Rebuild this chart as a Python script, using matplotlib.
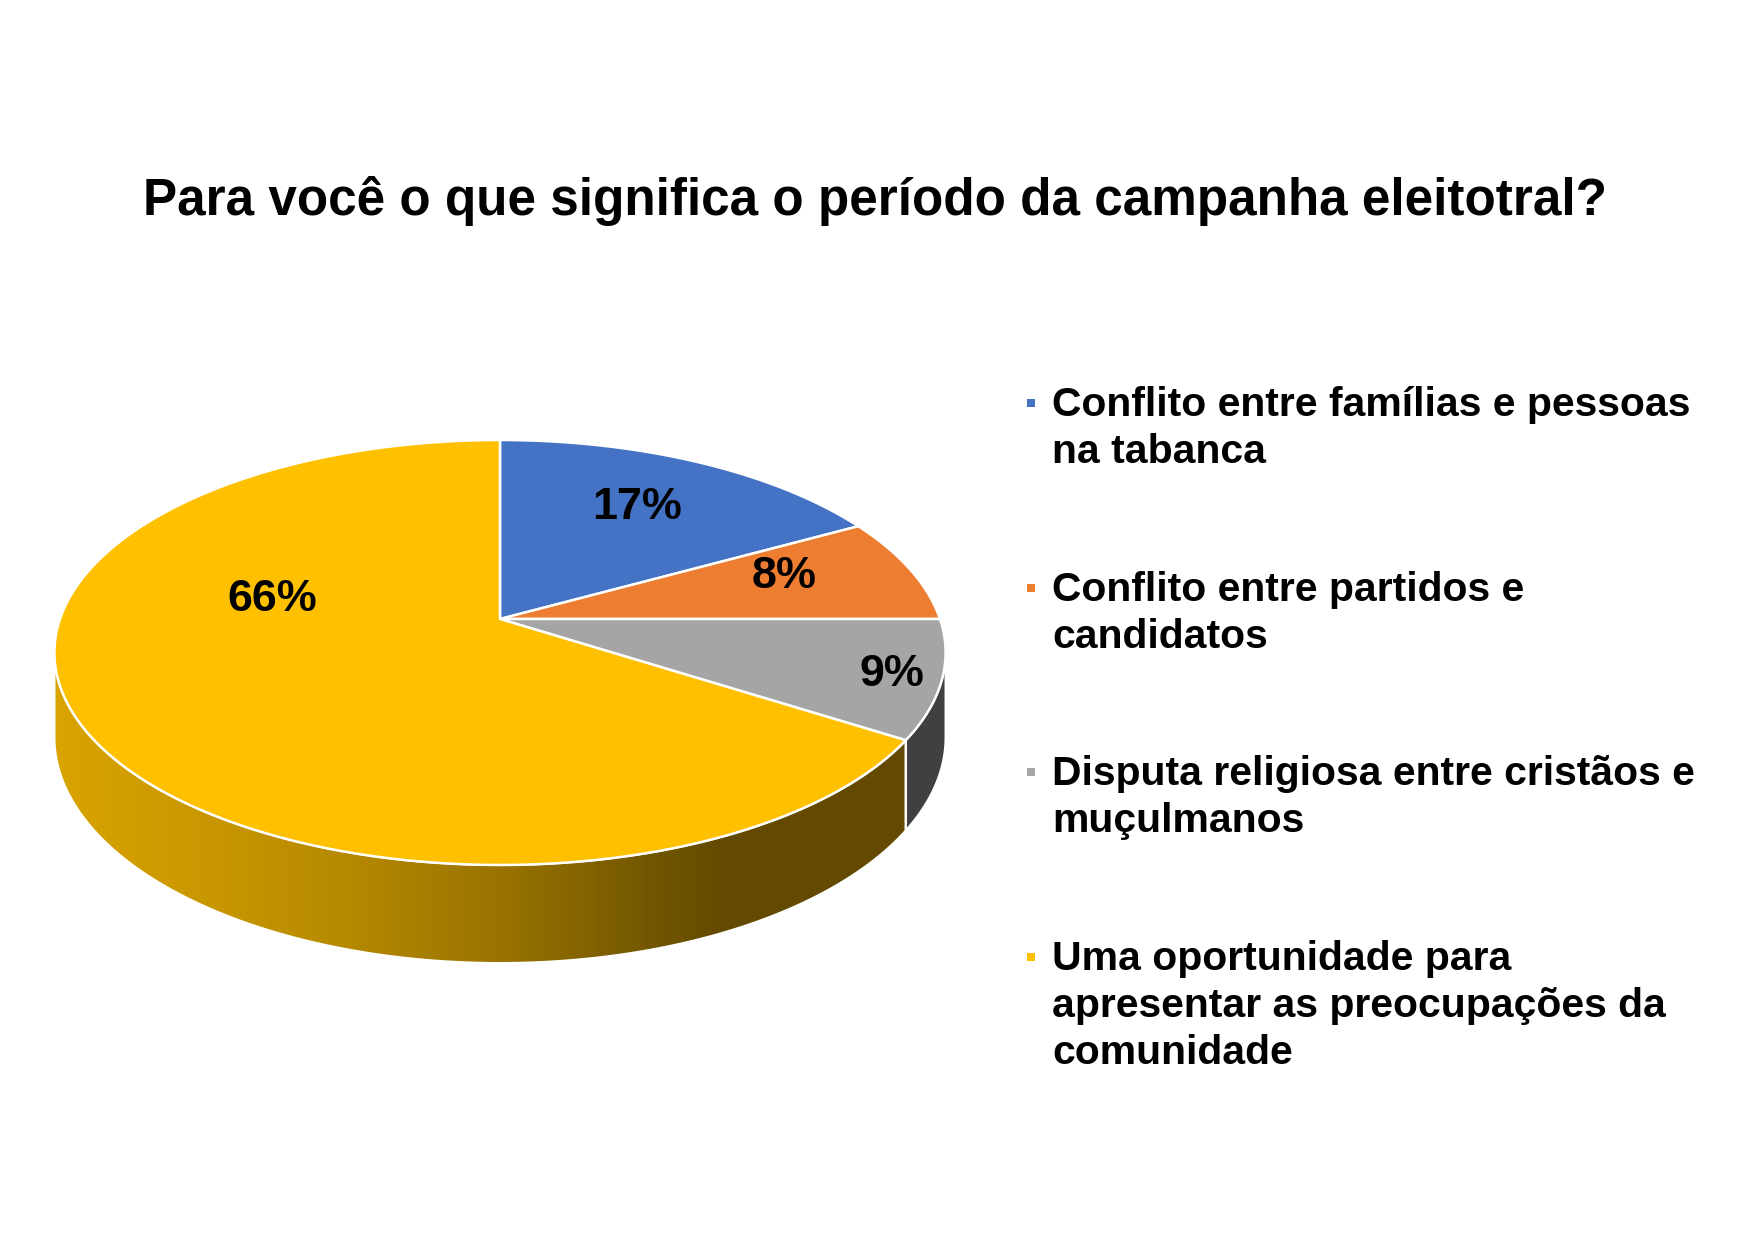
import numpy as np
import matplotlib
matplotlib.use("Agg")
import matplotlib.pyplot as plt
from matplotlib.patches import Polygon

# ---------------- data ----------------
title = "Para você o que significa o período da campanha eleitotral?"
categories = [
    "Conflito entre famílias e pessoas\nna tabanca",
    "Conflito entre partidos e\ncandidatos",
    "Disputa religiosa entre cristãos e\nmuçulmanos",
    "Uma oportunidade para\napresentar as preocupações da\ncomunidade",
]
values = [17, 8, 9, 66]
colors = ["#4472C4", "#ED7D31", "#A5A5A5", "#FFC000"]

# ---------------- layout ----------------
W, H = 1749, 1241
CX, CY = 500, 619          # pie vertex (pixels)
RX, A, K, D = 440, 207.2, 0.1576, 82.6   # perspective ellipse params and depth
FONT = "Liberation Sans"
label_pos = [(60.9, 0.70), (19.4, 0.71), (-15.5, 0.89), (167.4, 0.54)]  # (angle, radius frac)
legend_x_marker, legend_x_text = 1031, 1052
legend_first = [403, 588, 772, 957]
legend_line = 47
shade_x = [40, 200, 350, 500, 650, 720, 960]
shade_f = [0.86, 0.79, 0.71, 0.60, 0.45, 0.39, 0.39]

fig = plt.figure(figsize=(W / 100, H / 100), dpi=100)
fig.patch.set_facecolor("white")
ax = fig.add_axes([0, 0, 1, 1])
ax.set_xlim(0, W)
ax.set_ylim(H, 0)
ax.axis("off")
renderer = fig.canvas.get_renderer()


def proj(t_deg, r=1.0, depth=0.0):
    t = np.radians(t_deg)
    u = r * np.cos(t)
    v = r * np.sin(t)
    den = 1 + K * v
    return CX + RX * u / den, CY - A * v / den + depth * D / den


def fit_size(text, target_w, weight="bold"):
    t = fig.text(0, 0, text, fontsize=10, fontfamily=FONT, fontweight=weight)
    w = t.get_window_extent(renderer).width
    t.remove()
    return 10 * target_w / w


total = float(sum(values))
cum = np.cumsum([0] + values)
starts = 90 - 360 * cum[:-1] / total
ends = 90 - 360 * cum[1:] / total

vis_lo = -180 + np.degrees(np.arcsin(K))
vis_hi = -np.degrees(np.arcsin(K))

# gradient image for the side walls
xs = np.linspace(0, W, 600)
fac = np.interp(xs, shade_x, shade_f)

# ---- sides ----
for s, e, c in zip(starts, ends, colors):
    lo, hi = max(e, vis_lo), min(s, vis_hi)
    if lo >= hi:
        continue
    t = np.linspace(hi, lo, 200)
    xt, yt = proj(t)
    xb, yb = proj(t, depth=1.0)
    pts = np.column_stack([np.concatenate([xt, xb[::-1]]), np.concatenate([yt, yb[::-1]])])
    poly = Polygon(pts, closed=True, facecolor="none", edgecolor="none")
    ax.add_patch(poly)
    base = np.array(matplotlib.colors.to_rgb(c))
    img = (fac[:, None] * base[None, :])[None, :, :]
    im = ax.imshow(img, extent=(0, W, H, 0), aspect="auto", zorder=1, interpolation="bilinear")
    im.set_clip_path(poly)
    edge = Polygon(pts, closed=True, facecolor="none", edgecolor="white", lw=1.5, zorder=2)
    ax.add_patch(edge)

# ---- top faces ----
for s, e, c in zip(starts, ends, colors):
    t = np.linspace(s, e, 300)
    x, y = proj(t)
    pts = np.column_stack([np.concatenate([[CX], x]), np.concatenate([[CY], y])])
    ax.add_patch(Polygon(pts, closed=True, facecolor=c, edgecolor="white", lw=1.8, zorder=3,
                         joinstyle="round"))

ax.set_xlim(0, W)
ax.set_ylim(H, 0)

# ---- data labels ----
lab_fs = fit_size("17%", 90)
em = lab_fs * 100 / 72
for v, (ang, r) in zip(values, label_pos):
    x, y = proj(ang, r)
    ax.text(x, y + 0.358 * em, f"{v}%", ha="center", va="baseline", fontsize=lab_fs,
            fontfamily=FONT, fontweight="bold", color="black", zorder=5)

# ---- title ----
tfs = fit_size(title, 1463)
ax.text(875, 215, title, ha="center", va="baseline", fontsize=tfs, fontfamily=FONT,
        fontweight="bold", color="black")

# ---- legend ----
lfs = fit_size(categories[0].split("\n")[0], 638)
lem = lfs * 100 / 72
for cat, c, y0 in zip(categories, colors, legend_first):
    ax.scatter([legend_x_marker], [y0], marker="s", s=40, color=c, zorder=5, linewidths=0)
    for i, line in enumerate(cat.split("\n")):
        ax.text(legend_x_text, y0 + i * legend_line + 0.33 * lem, line, ha="left", va="baseline",
                fontsize=lfs, fontfamily=FONT, fontweight="bold", color="black")

fig.savefig("out.png", dpi=100, facecolor="white")
